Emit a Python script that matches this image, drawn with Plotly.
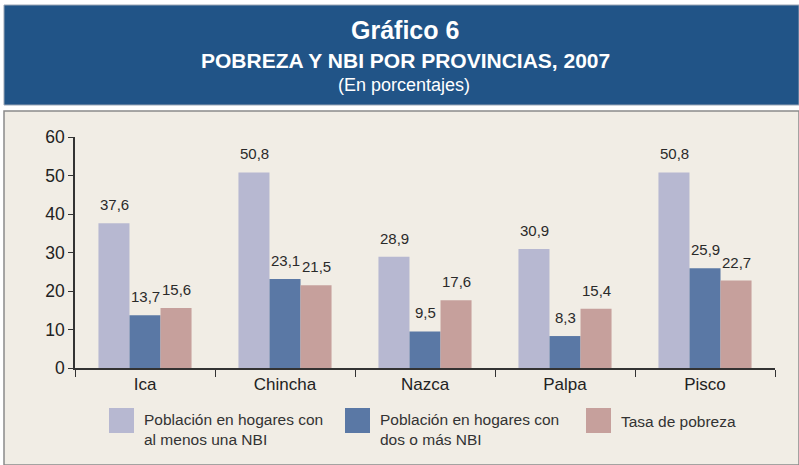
import plotly.graph_objects as go

provincias = ["Ica", "Chincha", "Nazca", "Palpa", "Pisco"]
nbi_una = [37.6, 50.8, 28.9, 30.9, 50.8]
nbi_dos = [13.7, 23.1, 9.5, 8.3, 25.9]
pobreza = [15.6, 21.5, 17.6, 15.4, 22.7]
series_names = ["Población en hogares con<br>al menos una NBI",
                "Población en hogares con<br>dos o más NBI",
                "Tasa de pobreza"]
colors = ["#b7b8d1", "#5a78a5", "#c6a09c"]

W, H = 799, 465
sans = "Liberation Sans, Arial, Helvetica, sans-serif"

def fmt(v):
    return f"{v:.1f}".replace(".", ",")

fig = go.Figure()
series = [nbi_una, nbi_dos, pobreza]
for vals, name, col in zip(series, series_names, colors):
    fig.add_trace(go.Bar(
        x=provincias, y=vals, name=name, marker=dict(color=col, line=dict(width=0)),
        showlegend=False, hoverinfo="x+y",
    ))

def px(x):
    return x / W

def py(y):
    return 1 - y / H

shapes = [
    dict(type="rect", xref="paper", yref="paper", x0=px(4), x1=px(799), y0=py(105), y1=py(5),
         fillcolor="#215487", line=dict(color="#9aa5b5", width=1), layer="below"),
    dict(type="rect", xref="paper", yref="paper", x0=px(4), x1=px(799), y0=py(465), y1=py(111),
         fillcolor="#f1ede5", line=dict(color="#8a8a8a", width=1.5), layer="below"),
]

def ann(text, x, y, size, xanchor="center", color="white", align="center", yanchor="middle"):
    return dict(text=text, x=px(x), y=py(y), xref="paper", yref="paper", showarrow=False,
                xanchor=xanchor, yanchor=yanchor, align=align,
                font=dict(family=sans, size=size, color=color))

annotations = [
    ann("<b>Gráfico 6</b>", 405, 30, 25),
    ann("<b>POBREZA Y NBI POR PROVINCIAS, 2007</b>", 405, 60, 21),
    ann("(En porcentajes)", 404, 85, 18),
]
# value labels above bars, positioned on the data axes
group_shift = [-31, 0, 31]
for vals, dx in zip(series, group_shift):
    for cat, v in zip(provincias, vals):
        annotations.append(dict(text=fmt(v), x=cat, y=v, xref="x", yref="y", showarrow=False,
                                xanchor="center", yanchor="bottom", xshift=dx, yshift=8,
                                font=dict(family=sans, size=15, color="#2a2a2a")))

leg_x = [109, 345, 586]
for lx, name, col in zip(leg_x, series_names, colors):
    shapes.append(dict(type="rect", xref="paper", yref="paper", x0=px(lx), x1=px(lx + 25),
                       y0=py(433), y1=py(408), fillcolor=col, line=dict(width=0)))
    cy = 429 if "<br>" in name else 421
    annotations.append(ann(name, lx + 33, cy, 15.5, xanchor="left", color="#333333", align="left"))

fig.update_layout(
    width=W, height=H, margin=dict(l=0, r=0, t=0, b=0, autoexpand=False),
    paper_bgcolor="white", plot_bgcolor="rgba(0,0,0,0)",
    barmode="group", bargap=0.335, bargroupgap=0, showlegend=False,
    shapes=shapes, annotations=annotations,
    xaxis=dict(domain=[px(75), px(775)], showline=True, linecolor="#333333", linewidth=1.5,
               ticks="outside", tickson="boundaries", ticklen=7, tickcolor="#333333",
               tickfont=dict(family=sans, size=17, color="#222222"),
               showgrid=False, automargin=False),
    yaxis=dict(domain=[py(368), py(137)], range=[0, 60], dtick=10, showline=True, linecolor="#333333",
               linewidth=1.5, ticks="outside", ticklen=5, tickcolor="#333333", showgrid=False,
               zeroline=False, automargin=False,
               tickfont=dict(family=sans, size=17.5, color="#222222")),
    font=dict(family=sans),
)
fig.write_html("out.html", config={"displayModeBar": False},
               post_script="document.body.style.margin='0px';document.body.style.overflow='hidden';")
